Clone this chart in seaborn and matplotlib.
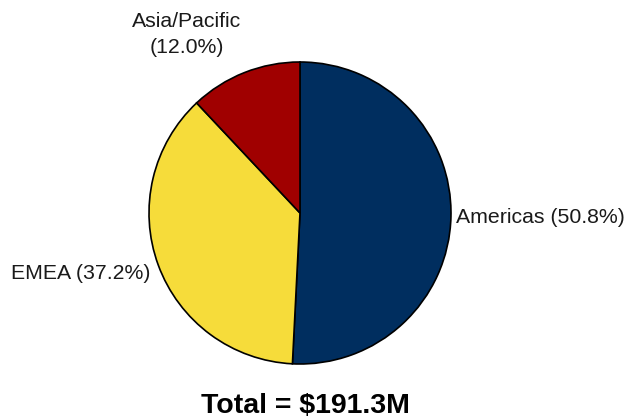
import matplotlib
matplotlib.use("Agg")
import matplotlib.pyplot as plt
import seaborn as sns

regions = ["Americas", "EMEA", "Asia/Pacific"]
shares = [50.8, 37.2, 12.0]
colors = ["#002E5F", "#F6DC3A", "#A00000"]
total_label = "Total = $191.3M"

sns.set_theme(style="white")
plt.rcParams["font.family"] = ["Liberation Sans", "DejaVu Sans"]

fig = plt.figure(figsize=(6.28, 4.20), dpi=100)
W, H = 628, 420
cx, cy, r = 300, 213, 151
ax = fig.add_axes([(cx - r) / W, (H - cy - r) / H, 2 * r / W, 2 * r / H])
ax.pie(shares, colors=colors, startangle=90, counterclock=False,
       wedgeprops=dict(edgecolor="black", linewidth=1.2))
ax.set_xlim(-1, 1)
ax.set_ylim(-1, 1)
ax.set_aspect("auto")

labels = [f"{n} ({v:.1f}%)" for n, v in zip(regions, shares)]
fs = 15.3
ax.text(1.035, -0.03, labels[0], ha="left", va="center", fontsize=fs, color="#1a1a1a",
        clip_on=False)
ax.text(-0.99, -0.40, labels[1], ha="right", va="center", fontsize=fs, color="#1a1a1a",
        clip_on=False)
ax.text(-0.75, 1.18, f"{regions[2]}\n({shares[2]:.1f}%)", ha="center", va="center",
        fontsize=fs, color="#1a1a1a", linespacing=1.45, clip_on=False)

fig.text(305 / W, 1 - 413 / H, total_label, ha="center", va="baseline",
         fontsize=20.5, fontweight="bold", color="black")

fig.savefig("out.png", dpi=100, facecolor="white")
